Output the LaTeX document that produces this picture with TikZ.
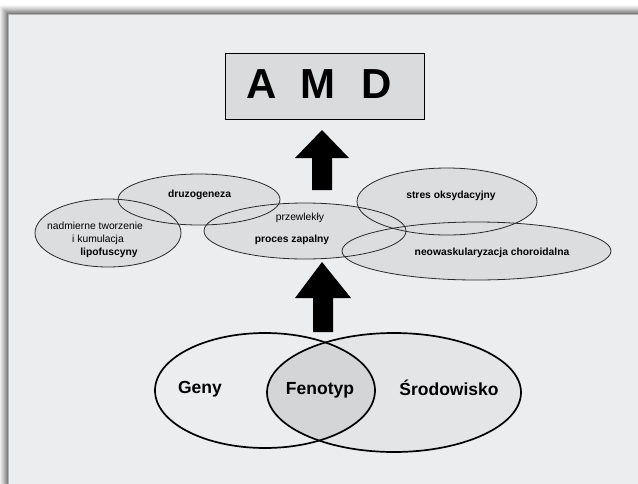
\documentclass[tikz,border=0pt]{standalone}
\usepackage{fontspec}
\setmainfont{Liberation Sans}
\usetikzlibrary{shapes.geometric}
\definecolor{panel}{HTML}{ECEDEF}
\definecolor{ellfill}{HTML}{DCDDDF}
\definecolor{envfill}{HTML}{E4E5E7}
\definecolor{mixfill}{HTML}{D4D5D7}
\definecolor{boxfill}{HTML}{DADBDD}
\definecolor{ellline}{HTML}{2A2A2A}
\tikzset{
  ovalbg/.style={ellipse, inner sep=0pt, fill=ellfill},
  ovalline/.style={ellipse, inner sep=0pt, draw=ellline, line width=0.8pt},
  smalltxt/.style={font=\fontsize{10.3}{12}\selectfont, inner sep=0pt},
  smallbold/.style={font=\fontsize{10.3}{12}\selectfont\bfseries, inner sep=0pt},
  bigtxt/.style={font=\fontsize{17.5}{20}\selectfont\bfseries, inner sep=0pt},
  blockarrow/.style={fill=black, draw=none},
}
\begin{document}
\begin{tikzpicture}[x=1pt,y=-1pt]
\useasboundingbox (0,0) rectangle (638,483);
\fill[white] (0,0) rectangle (638,483);
% shadow
\foreach \d/\o in {9/0.03,8/0.04,7/0.05,6/0.06,5/0.07,4/0.08,3/0.09,2/0.1,1/0.12}{
  \fill[black,opacity=\o] (8-\d,14-\d) rectangle (640,485);
}
\fill[panel] (8,14) rectangle (640,485);
\draw[gray!60, line width=0.6pt] (8,485) -- (8,14) -- (640,14);

% AMD box
\node[draw=black, line width=1.6pt, fill=boxfill, minimum width=199pt, minimum height=66pt, inner sep=0pt] (amd) at (325,86.5) {};
\node[font=\fontsize{42}{44}\selectfont\bfseries, inner sep=0pt] (amdtxt) at (319,84) {A\hspace{24pt}M\hspace{26pt}D};

% upper arrow
\fill[blockarrow] (322,130) -- (349,158) -- (332,158) -- (332,190) -- (312,190) -- (312,158) -- (295,158) -- cycle;
% lower arrow
\fill[blockarrow] (322,262) -- (351,298) -- (333,298) -- (333,332) -- (313,332) -- (313,298) -- (295,298) -- cycle;

% ellipse fills
\node[ovalbg, minimum width=162pt, minimum height=51pt] (e1bg) at (199,199.5) {};
\node[ovalbg, minimum width=146pt, minimum height=68pt] (e2bg) at (108,233) {};
\node[ovalbg, minimum width=202pt, minimum height=56pt] (e3bg) at (305,231) {};
\node[ovalbg, minimum width=180pt, minimum height=67pt] (e4bg) at (447,201.5) {};
\node[ovalbg, minimum width=269pt, minimum height=58pt] (e5bg) at (476.5,251) {};
% ellipse outlines
\node[ovalline, minimum width=162pt, minimum height=51pt] (druz) at (199,199.5) {};
\node[ovalline, minimum width=146pt, minimum height=68pt] (lipo) at (108,233) {};
\node[ovalline, minimum width=202pt, minimum height=56pt] (zap) at (305,231) {};
\node[ovalline, minimum width=180pt, minimum height=67pt] (stres) at (447,201.5) {};
\node[ovalline, minimum width=269pt, minimum height=58pt] (neo) at (476.5,251) {};

% texts
\node[smallbold] (t1) at (199.5,195) {druzogeneza};
\node[smalltxt] (t2a) at (95,226) {nadmierne tworzenie};
\node[smalltxt] (t2b) at (98,239.5) {i kumulacja};
\node[smallbold] (t2c) at (109,253) {lipofuscyny};
\node[smalltxt] (t3a) at (300,218) {przewlekły};
\node[smallbold] (t3b) at (292,240) {proces zapalny};
\node[smallbold] (t4) at (451,196) {stres oksydacyjny};
\node[smallbold] (t5) at (492,252.5) {neowaskularyzacja choroidalna};

% Venn
\fill[envfill] (394,392.5) ellipse [x radius=127, y radius=59.5];
\begin{scope}
  \clip (265,390.5) ellipse [x radius=110, y radius=57.5];
  \fill[mixfill] (394,392.5) ellipse [x radius=127, y radius=59.5];
\end{scope}
\node[ellipse, draw=black, line width=1.7pt, minimum width=220pt, minimum height=115pt, inner sep=0pt] (geny) at (265,390.5) {};
\node[ellipse, draw=black, line width=1.7pt, minimum width=254pt, minimum height=119pt, inner sep=0pt] (srod) at (394,392.5) {};
\node[bigtxt] (tg) at (200,389) {Geny};
\node[bigtxt] (tf) at (320,390) {Fenotyp};
\node[bigtxt] (ts) at (449,388) {Środowisko};
\end{tikzpicture}
\end{document}
